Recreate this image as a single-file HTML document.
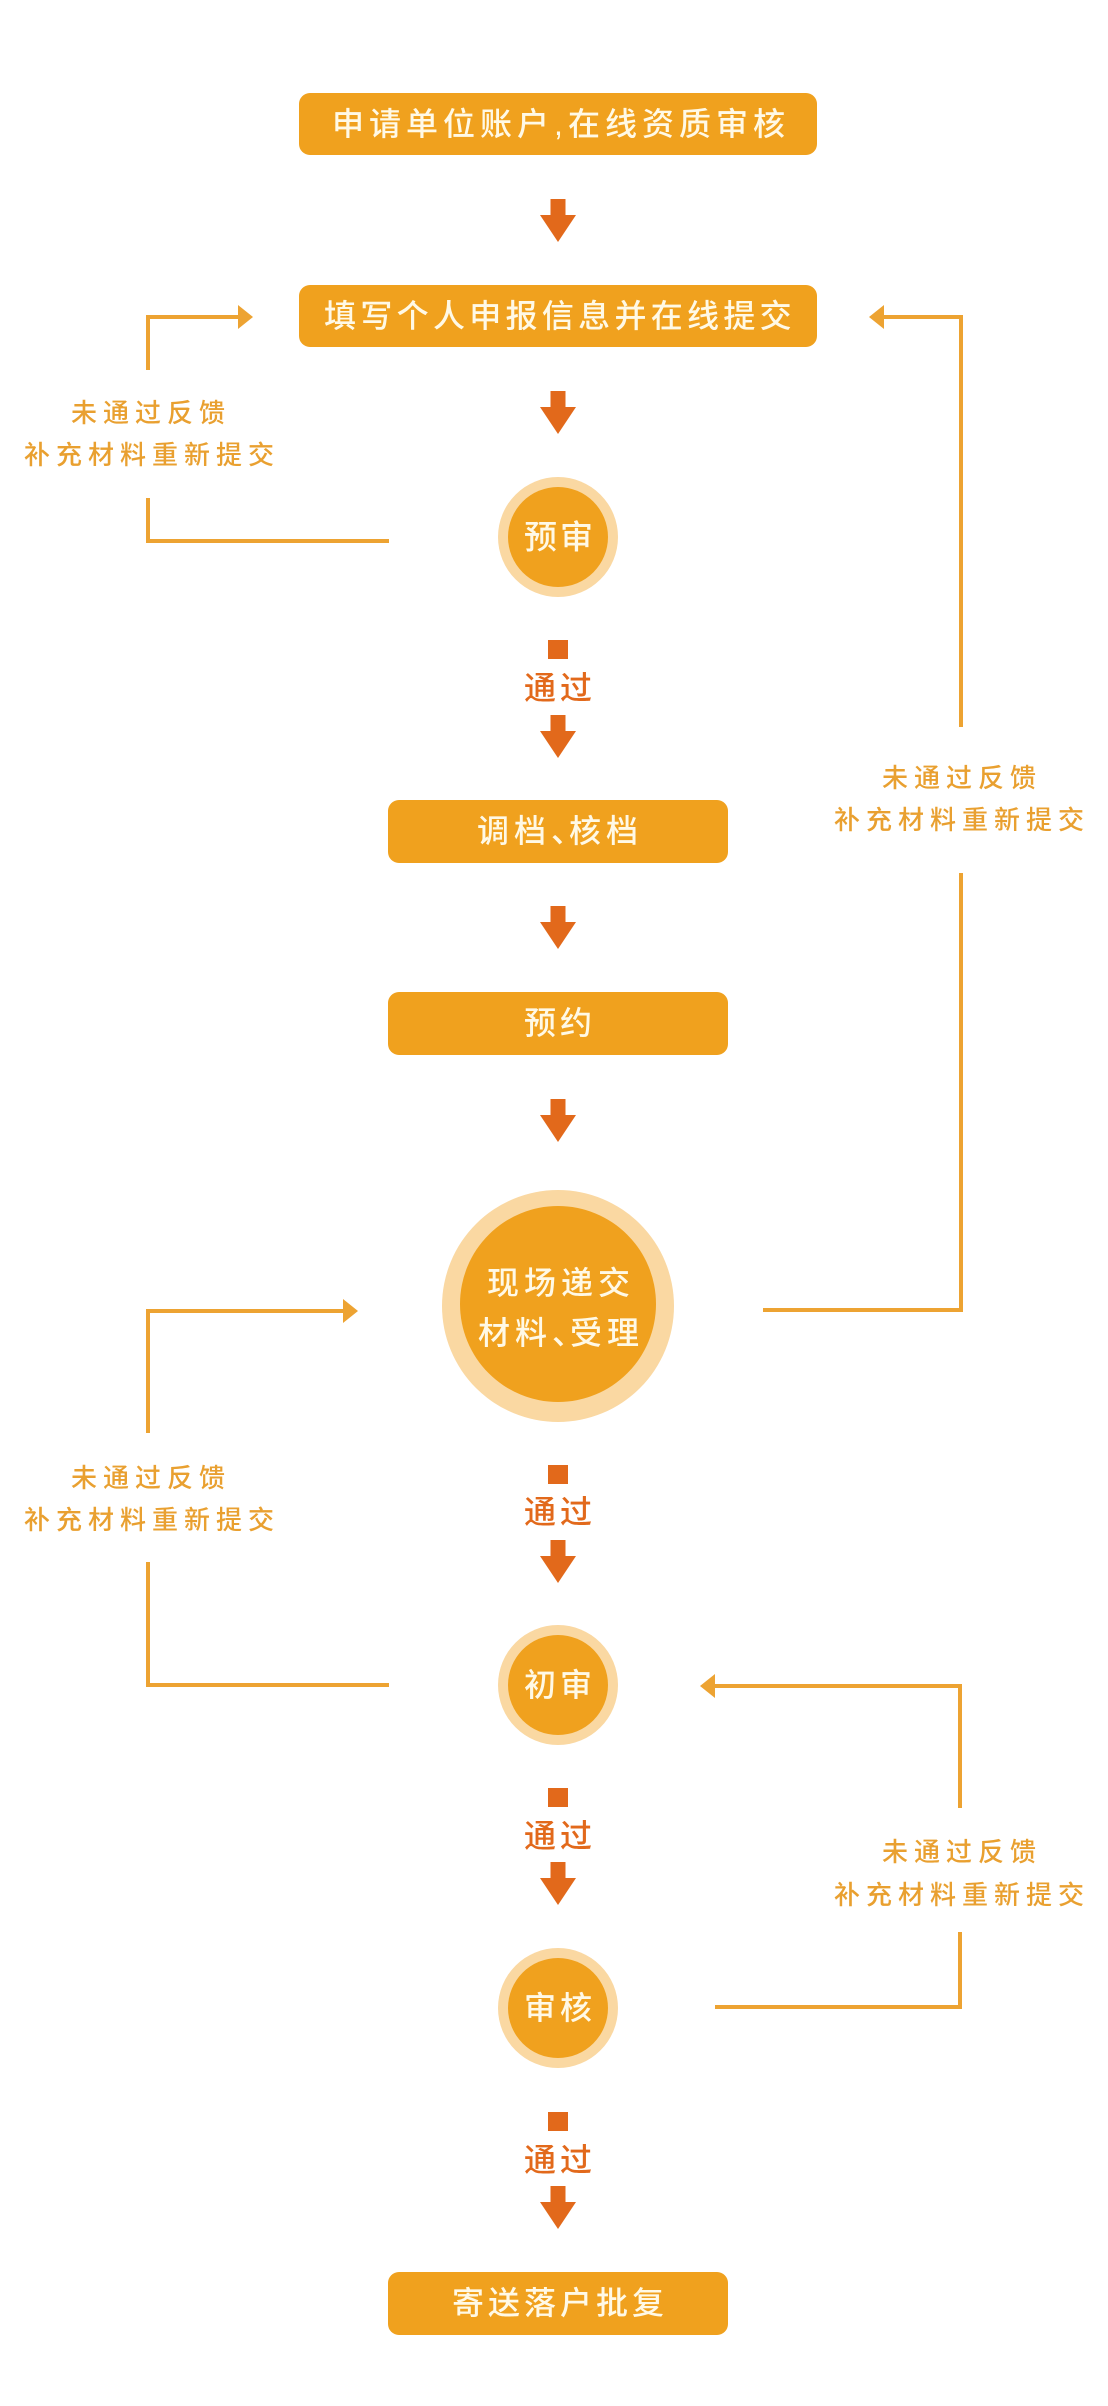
<!DOCTYPE html>
<html><head><meta charset="utf-8">
<style>
html,body{margin:0;padding:0;background:#fff;}
svg{display:block;}
text{font-family:"Liberation Sans","Noto Sans CJK SC",sans-serif;font-weight:500;}
</style></head>
<body>
<svg width="1108" height="2406" viewBox="0 0 1108 2406" xmlns="http://www.w3.org/2000/svg">
<rect width="1108" height="2406" fill="#ffffff"/>
<defs>
<g id="darr"><rect x="-7.5" y="0" width="15" height="18" fill="#E2691B"/><polygon points="-18,16 18,16 0,43" fill="#E2691B"/></g>
</defs>

<!-- Boxes -->
<rect x="299" y="93" width="518" height="62" rx="11" fill="#F0A11E"/>
<text x="561" y="124" font-size="32" letter-spacing="5" text-anchor="middle" dominant-baseline="central" fill="#FFF9E6">申请单位账户,在线资质审核</text>

<use href="#darr" x="558" y="199"/>

<rect x="299" y="285" width="518" height="62" rx="11" fill="#F0A11E"/>
<text x="560" y="316" font-size="32" letter-spacing="4.3" text-anchor="middle" dominant-baseline="central" fill="#FFF9E6">填写个人申报信息并在线提交</text>

<use href="#darr" x="558" y="391"/>

<!-- 预审 -->
<circle cx="558" cy="537" r="60" fill="#FAD8A2"/>
<circle cx="558" cy="537" r="50" fill="#F0A11E"/>
<text x="560" y="537" font-size="33" letter-spacing="3" text-anchor="middle" dominant-baseline="central" fill="#FFF9E6">预审</text>

<rect x="548" y="640" width="20" height="19" fill="#E2691B"/>
<text x="560" y="688" font-size="32" letter-spacing="4" text-anchor="middle" dominant-baseline="central" fill="#E2691B">通过</text>
<use href="#darr" x="558" y="715"/>

<rect x="388" y="800" width="340" height="63" rx="11" fill="#F0A11E"/>
<text x="560" y="831" font-size="32" letter-spacing="5" text-anchor="middle" dominant-baseline="central" fill="#FFF9E6">调档<tspan letter-spacing="-14">、</tspan>核档</text>

<use href="#darr" x="558" y="906"/>

<rect x="388" y="992" width="340" height="63" rx="11" fill="#F0A11E"/>
<text x="560" y="1023" font-size="32" letter-spacing="4" text-anchor="middle" dominant-baseline="central" fill="#FFF9E6">预约</text>

<use href="#darr" x="558" y="1099"/>

<!-- big circle -->
<circle cx="558" cy="1306" r="116" fill="#FAD8A2"/>
<circle cx="558" cy="1304" r="98" fill="#F0A11E"/>
<text x="561" y="1283" font-size="32" letter-spacing="5" text-anchor="middle" dominant-baseline="central" fill="#FFF9E6">现场递交</text>
<text x="561" y="1333" font-size="32" letter-spacing="5" text-anchor="middle" dominant-baseline="central" fill="#FFF9E6">材料<tspan letter-spacing="-14">、</tspan>受理</text>

<rect x="548" y="1465" width="20" height="19" fill="#E2691B"/>
<text x="560" y="1512" font-size="32" letter-spacing="4" text-anchor="middle" dominant-baseline="central" fill="#E2691B">通过</text>
<use href="#darr" x="558" y="1540"/>

<!-- 初审 -->
<circle cx="558" cy="1685" r="60" fill="#FAD8A2"/>
<circle cx="558" cy="1685" r="50" fill="#F0A11E"/>
<text x="560" y="1685" font-size="32" letter-spacing="4" text-anchor="middle" dominant-baseline="central" fill="#FFF9E6">初审</text>

<rect x="548" y="1788" width="20" height="19" fill="#E2691B"/>
<text x="560" y="1836" font-size="32" letter-spacing="4" text-anchor="middle" dominant-baseline="central" fill="#E2691B">通过</text>
<use href="#darr" x="558" y="1862"/>

<!-- 审核 -->
<circle cx="558" cy="2008" r="60" fill="#FAD8A2"/>
<circle cx="558" cy="2008" r="50" fill="#F0A11E"/>
<text x="560" y="2008" font-size="32" letter-spacing="4" text-anchor="middle" dominant-baseline="central" fill="#FFF9E6">审核</text>

<rect x="548" y="2112" width="20" height="19" fill="#E2691B"/>
<text x="560" y="2160" font-size="32" letter-spacing="4" text-anchor="middle" dominant-baseline="central" fill="#E2691B">通过</text>
<use href="#darr" x="558" y="2186"/>

<rect x="388" y="2272" width="340" height="63" rx="11" fill="#F0A11E"/>
<text x="560" y="2303" font-size="32" letter-spacing="4" text-anchor="middle" dominant-baseline="central" fill="#FFF9E6">寄送落户批复</text>

<!-- Loops -->
<g stroke="#EDA332" stroke-width="4" fill="none" stroke-linecap="butt">
  <polyline points="148,370 148,317 240,317"/>
  <polyline points="148,498 148,541 389,541"/>
  <polyline points="882,317 961,317 961,727"/>
  <polyline points="961,873 961,1310 763,1310"/>
  <polyline points="148,1433 148,1311 345,1311"/>
  <polyline points="148,1562 148,1685 389,1685"/>
  <polyline points="713,1686 960,1686 960,1808"/>
  <polyline points="960,1932 960,2007 715,2007"/>
</g>
<g fill="#EDA332">
  <polygon points="238,305 253,317 238,329"/>
  <polygon points="884,305 869,317 884,329"/>
  <polygon points="343,1299 358,1311 343,1323"/>
  <polygon points="715,1674 700,1686 715,1698"/>
</g>

<!-- loop labels -->
<g font-size="26" letter-spacing="6" text-anchor="middle" dominant-baseline="central" fill="#E9A030">
  <text x="151" y="413">未通过反馈</text>
  <text x="152" y="455">补充材料重新提交</text>
  <text x="962" y="778">未通过反馈</text>
  <text x="962" y="820">补充材料重新提交</text>
  <text x="151" y="1478">未通过反馈</text>
  <text x="152" y="1520">补充材料重新提交</text>
  <text x="962" y="1852">未通过反馈</text>
  <text x="962" y="1895">补充材料重新提交</text>
</g>
</svg>
</body></html>
